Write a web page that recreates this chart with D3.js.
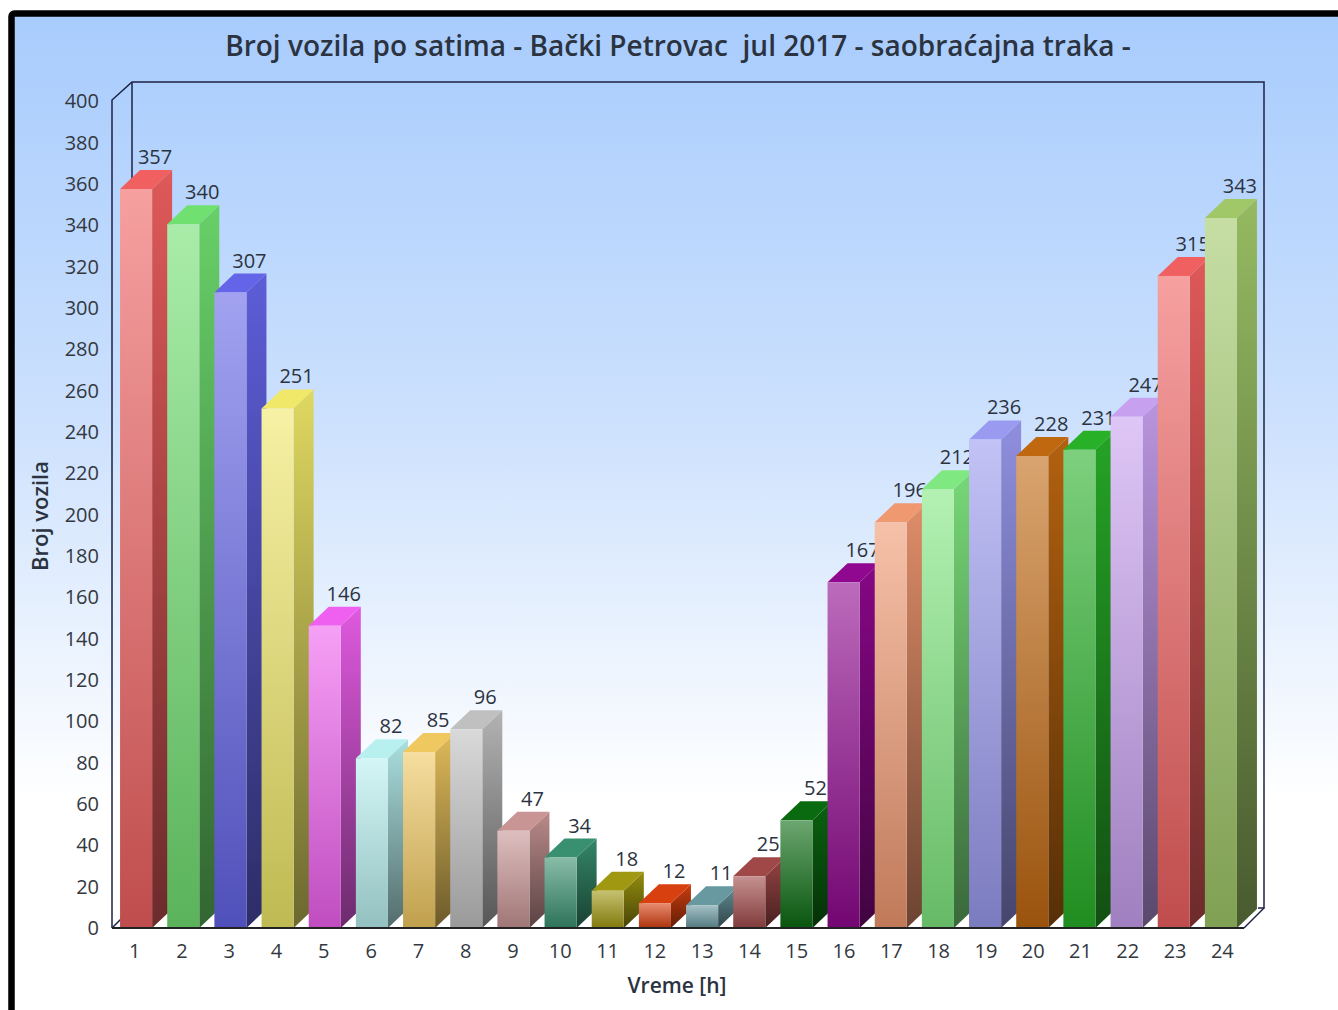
<!doctype html>
<html lang="en">
	<head>
		<title>Broj vozila po satima</title>
		<meta charset="utf-8">
		<style>
			body{ margin: 0; background: white; overflow: hidden; }
			svg{ display: block; }
			text{ font-family: "Open Sans", sans-serif; fill: #2b3340; }
			.axis path, .axis line{ display: none; }
			.axis text{ font-size: 20px; font-family: "Open Sans", sans-serif; fill: #33383f; }
		</style>
	</head>
	<body>
		<div id="chart"></div>

		<script src="https://d3js.org/d3.v7.js"></script>
		<script>

			var hours = d3.range(1, 25)
			var counts = [357, 340, 307, 251, 146, 82, 85, 96, 47, 34, 18, 12, 11, 25, 52, 167, 196, 212, 236, 228, 231, 247, 315, 343]
			var barColors = ["#f06060", "#70e070", "#6464e8", "#f0e868", "#f060f0", "#b8f0f0", "#f0c860", "#c0c0c0",
				"#c89494", "#389070", "#a09810", "#d84010", "#6898a0", "#a04848", "#0a6a10", "#90088f",
				"#f09870", "#80e880", "#9a9af0", "#c06810", "#28b028", "#c8a0f0", "#f06060", "#a0c868"]
			var yTicks = d3.range(0, 401, 20)

			var width = 1338, height = 1010
			var left = 112, right = 1244, top_ = 100, bottom = 928
			var dx = 20, dy = 19

			var svg = d3.select("#chart").append("svg")
				.attr("width", width)
				.attr("height", height)

			var defs = svg.append("defs")

			var bg = defs.append("linearGradient")
				.attr("id", "bg")
				.attr("gradientUnits", "userSpaceOnUse")
				.attr("x1", 0).attr("y1", 16).attr("x2", 0).attr("y2", 800)
			bg.append("stop").attr("offset", 0).attr("stop-color", "#a8ccfd")
			bg.append("stop").attr("offset", 0.5).attr("stop-color", "#cbe0fd")
			bg.append("stop").attr("offset", 1).attr("stop-color", "#ffffff")

			// black frame, it runs off the picture on the right and bottom
			svg.append("rect")
				.attr("x", 11.5).attr("y", 13.5)
				.attr("width", 1500).attr("height", 1200)
				.attr("rx", 3)
				.attr("fill", "url(#bg)")
				.attr("stroke", "black")
				.attr("stroke-width", 6.5)

			var x = d3.scaleBand()
				.domain(hours)
				.range([left + 0.5, right + 0.5])
				.paddingInner(0.32)
				.paddingOuter(0.16)

			var y = d3.scaleLinear()
				.domain([0, 400])
				.range([bottom, top_])

			// the tick labels sit on a slightly different spacing than the bars
			var xLabels = d3.scaleBand()
				.domain(hours)
				.range([left - 1, right + 2])

			var yLabels = d3.scaleLinear()
				.domain([0, 400])
				.range([bottom, top_ + 1.5])

			// walls of the 3d box, the floor line only shows at the far right
			var wall = "#1c2244"
			var box = d3.line()
			svg.append("path")
				.attr("d", box([[left, bottom], [left, top_], [left + dx, top_ - dy + 1], [right + dx, top_ - dy + 1], [right + dx, bottom - dy - 1], [right + dx - 6, bottom - dy - 1]]))
				.attr("fill", "none").attr("stroke", wall).attr("stroke-width", 1.5)
			svg.append("path")
				.attr("d", box([[left + dx, top_ - dy + 1], [left + dx, bottom - dy - 1], [left, bottom]]))
				.attr("fill", "none").attr("stroke", wall).attr("stroke-width", 1.5)
			svg.append("path")
				.attr("d", box([[right, bottom], [right + dx, bottom - dy - 1]]))
				.attr("fill", "none").attr("stroke", wall).attr("stroke-width", 1.5)

			function shade(c, k) {
				var o = d3.rgb(c)
				return d3.rgb(o.r * k, o.g * k, o.b * k).formatHex()
			}

			function addGradient(id, from, to) {
				var g = defs.append("linearGradient")
					.attr("id", id)
					.attr("x1", 0).attr("y1", 0).attr("x2", 0).attr("y2", 1)
				g.append("stop").attr("offset", 0).attr("stop-color", from)
				g.append("stop").attr("offset", 1).attr("stop-color", to)
			}

			// bars go left to right so that each one covers the label of the one before
			hours.forEach(function(h, i) {
				var c = barColors[i]
				var x0 = x(h), w = x.bandwidth()
				var y0 = y(0), yv = y(counts[i])

				addGradient("front" + h, d3.interpolateRgb(c, "white")(0.4), shade(c, 0.8))
				addGradient("side" + h, shade(c, 0.93), shade(c, 0.45))

				var bar = svg.append("g").attr("class", "bar")

				bar.append("text")
					.attr("x", x0 + w / 2 + dx - 1)
					.attr("y", yv - dy - 6)
					.attr("text-anchor", "middle")
					.style("font-size", "20px")
					.text(counts[i])

				bar.append("path")
					.attr("d", box([[x0 + w, y0], [x0 + w + dx, y0 - dy], [x0 + w + dx, yv - dy], [x0 + w, yv]]) + "Z")
					.attr("fill", "url(#side" + h + ")")

				bar.append("path")
					.attr("d", box([[x0, yv], [x0 + dx, yv - dy], [x0 + w + dx, yv - dy], [x0 + w, yv]]) + "Z")
					.attr("fill", c)

				bar.append("rect")
					.attr("x", x0)
					.attr("y", yv)
					.attr("width", w)
					.attr("height", y0 - yv)
					.attr("fill", "url(#front" + h + ")")
			})

			// front base line
			svg.append("line")
				.attr("x1", left).attr("x2", right)
				.attr("y1", bottom).attr("y2", bottom)
				.attr("stroke", "#222").attr("stroke-width", 2)

			svg.append("g")
				.attr("class", "axis")
				.attr("transform", "translate(" + (left - 5) + ",0)")
				.call(d3.axisLeft(yLabels).tickValues(yTicks).tickSize(8).tickPadding(0))

			svg.append("g")
				.attr("class", "axis")
				.attr("transform", "translate(0," + (bottom + 5) + ")")
				.call(d3.axisBottom(xLabels).tickSize(8).tickPadding(3))

			svg.append("text")
				.attr("x", 678)
				.attr("y", 56)
				.attr("text-anchor", "middle")
				.style("font-size", "28px")
				.style("font-weight", 600)
				.style("white-space", "pre")
				.attr("xml:space", "preserve")
				.text("Broj vozila po satima - Bački Petrovac  jul 2017 - saobraćajna traka -")

			svg.append("text")
				.attr("x", 677)
				.attr("y", 993)
				.attr("text-anchor", "middle")
				.style("font-size", "21px")
				.style("font-weight", 600)
				.text("Vreme [h]")

			svg.append("text")
				.attr("transform", "translate(48,516) rotate(-90)")
				.attr("text-anchor", "middle")
				.style("font-size", "22px")
				.style("font-weight", 600)
				.text("Broj vozila")

		</script>
	</body>
</html>
